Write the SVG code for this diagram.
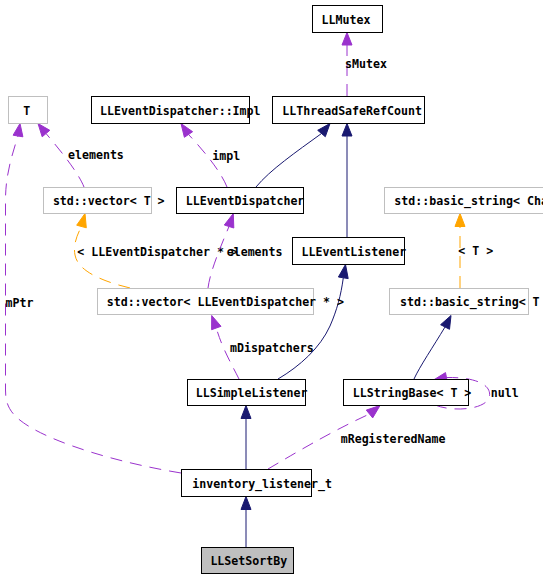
<svg xmlns="http://www.w3.org/2000/svg" width="543" height="578" viewBox="0 0 543 578">
<style>
text{font-family:"DejaVu Sans Mono","Liberation Mono",monospace;font-weight:bold;font-size:11.6px;fill:#000}
.n rect{fill:#fff;stroke:#000;stroke-width:1}
.n.g rect{stroke:#bfbfbf}
.n.cur rect{fill:#bfbfbf}
.e path,.e line{fill:none;stroke-width:1}
.inh{stroke:#191970}
.use{stroke:#9a32cd;stroke-dasharray:12,8}
.tpl{stroke:#ffa500;stroke-dasharray:12,8}
.ah-inh{fill:#191970;stroke:#191970}
.ah-use{fill:#9a32cd;stroke:#9a32cd}
.ah-tpl{fill:#ffa500;stroke:#ffa500}
</style>
<rect width="543" height="578" fill="#fff"/>
<g id="connectors" class="e">
  <!-- sMutex -->
  <line class="use" x1="347" y1="96" x2="347" y2="45"/>
  <polygon class="ah-use" points="347,32.5 352,45 342,45"/>
  <text x="345" y="68.3">sMutex</text>
  <!-- elements: T <- vector<T> -->
  <path class="use" d="M84,187 C78,172 60,150 46,133.5"/>
  <polygon class="ah-use" points="38,123.5 49.8,130.3 42.2,136.8"/>
  <text x="68" y="159.3">elements</text>
  <!-- mPtr: T <- inventory_listener_t -->
  <path class="use" d="M181,473 C120,463 60,445 30,427 C10,415 5.5,405 5.5,390 L5.5,200 C5.5,175 12,155 18,136"/>
  <polygon class="ah-use" points="20,123.5 22.9,136.8 13.1,135.2"/>
  <text x="5.5" y="306.7">mPtr</text>
  <!-- impl -->
  <path class="use" d="M227,187 C221,172 205,152 188.5,134.5"/>
  <polygon class="ah-use" points="181,123.5 192.6,131.7 184.4,137.3"/>
  <text x="212.3" y="160">impl</text>
  <!-- LLEventDispatcher -> LLThreadSafeRefCount -->
  <path class="inh" d="M256,187 C270,170 296,152 321.5,133.5"/>
  <polygon class="ah-inh" points="330,123.5 325.3,136.7 317.7,130.3"/>
  <!-- LLEventListener -> LLThreadSafeRefCount -->
  <line class="inh" x1="347" y1="237" x2="347" y2="136"/>
  <polygon class="ah-inh" points="347,123.5 352,136 342,136"/>
  <!-- vector<T> <- vector<LLEventDispatcher*> -->
  <path class="tpl" d="M130,288 C105,282 78,272 75,255 C73,245 77,235 81.5,226.5"/>
  <polygon class="ah-tpl" points="85,213.5 86.3,227.8 76.7,225.2"/>
  <text x="77.3" y="255.7">&lt; LLEventDispatcher * &gt;</text>
  <!-- elements: LLEventDispatcher <- vector<LLEventDispatcher*> -->
  <path class="use" d="M208,288 C210,272 220,248 229,226.5"/>
  <polygon class="ah-use" points="233.3,213.5 233.8,228 224.3,225"/>
  <text x="226.7" y="255.7">elements</text>
  <!-- basic_string<Cha <- basic_string<T -->
  <line class="tpl" x1="460" y1="288" x2="460" y2="226.5"/>
  <polygon class="ah-tpl" points="460,213.5 465,226.5 455,226.5"/>
  <text x="458.3" y="255.3">&lt; T &gt;</text>
  <!-- mDispatchers -->
  <path class="use" d="M239,379 C232,365 222,348 216.3,328"/>
  <polygon class="ah-use" points="211.7,315.5 221,326.3 211.6,329.7"/>
  <text x="230" y="352.3">mDispatchers</text>
  <!-- LLSimpleListener -> LLEventListener -->
  <path class="inh" d="M278,379 C300,366 320,348 330,326 C337,310 341,295 343.3,277.8"/>
  <polygon class="ah-inh" points="345.5,264.5 348.2,278.6 338.4,277"/>
  <!-- LLStringBase -> basic_string<T> -->
  <path class="inh" d="M414,379 C420,366 433,347 445,327"/>
  <polygon class="ah-inh" points="451,315.5 449.5,329.3 440.6,324.7"/>
  <!-- null self loop -->
  <path class="use" d="M435,405 C452,412 484,410 489,398 C493,386 478,377 446.5,377.5"/>
  <polygon class="ah-use" points="433.5,380 445.5,372.6 447.4,382.4"/>
  <text x="490.7" y="396.7">null</text>
  <!-- mRegisteredName -->
  <path class="use" d="M268,469 C292,455 330,432 369.5,414"/>
  <polygon class="ah-use" points="380,405.5 372.7,417.9 366.3,410.1"/>
  <text x="340.7" y="442.7">mRegisteredName</text>
  <!-- inventory_listener_t -> LLSimpleListener -->
  <line class="inh" x1="246" y1="469" x2="246" y2="418.5"/>
  <polygon class="ah-inh" points="246,405.5 251,418.5 241,418.5"/>
  <!-- LLSetSortBy -> inventory_listener_t -->
  <line class="inh" x1="246" y1="547" x2="246" y2="509.5"/>
  <polygon class="ah-inh" points="246,496.5 251,509.5 241,509.5"/>
</g>
<g id="LLMutex" class="n"><rect x="312.5" y="5.5" width="70" height="27"/><text x="321.5" y="23.5">LLMutex</text></g>
<g id="T" class="n g"><rect x="8.5" y="96.5" width="39" height="27"/><text x="23.3" y="114.5">T</text></g>
<g id="LLEventDispatcherImpl" class="n"><rect x="91.5" y="96.5" width="158" height="27"/><text x="100" y="114.5">LLEventDispatcher::Impl</text></g>
<g id="LLThreadSafeRefCount" class="n"><rect x="272.5" y="96.5" width="152" height="27"/><text x="282.3" y="114.5">LLThreadSafeRefCount</text></g>
<g id="vectorT" class="n g"><rect x="43.5" y="187.5" width="108" height="26"/><text x="52.9" y="205.3">std::vector&lt; T &gt;</text></g>
<g id="LLEventDispatcher" class="n"><rect x="176.5" y="187.5" width="127" height="26"/><text x="185.7" y="205.3">LLEventDispatcher</text></g>
<g id="basicStringCha" class="n g"><rect x="384.5" y="187.5" width="200" height="26"/><text x="394.3" y="205.3">std::basic_string&lt; Cha</text></g>
<g id="LLEventListener" class="n"><rect x="292.5" y="237.5" width="112" height="27"/><text x="301.5" y="255.8">LLEventListener</text></g>
<g id="vectorLLEventDispatcherPtr" class="n g"><rect x="97.5" y="288.5" width="216" height="26"/><text x="106.7" y="306.3">std::vector&lt; LLEventDispatcher * &gt;</text></g>
<g id="basicStringT" class="n g"><rect x="389.5" y="288.5" width="139" height="26"/><text x="400" y="306.3">std::basic_string&lt; T</text></g>
<g id="LLSimpleListener" class="n"><rect x="187.5" y="379.5" width="118" height="26"/><text x="195.7" y="397">LLSimpleListener</text></g>
<g id="LLStringBaseT" class="n"><rect x="343.5" y="379.5" width="125" height="26"/><text x="352.7" y="397">LLStringBase&lt; T &gt;</text></g>
<g id="inventory_listener_t" class="n"><rect x="181.5" y="469.5" width="130" height="27"/><text x="192.3" y="487.5">inventory_listener_t</text></g>
<g id="LLSetSortBy" class="n cur"><rect x="201.5" y="547.5" width="92" height="26"/><text x="210.4" y="565.3">LLSetSortBy</text></g>
</svg>
